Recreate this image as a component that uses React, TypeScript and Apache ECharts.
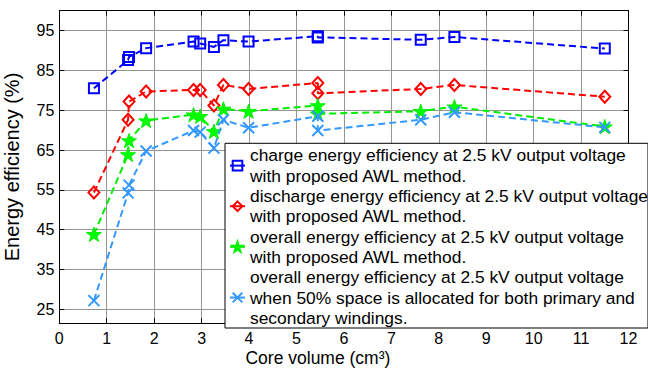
import React, { useEffect, useRef } from "react";
import * as echarts from "echarts";

const coreVolume = [0.73, 1.45, 1.47, 1.83, 2.83, 2.97, 3.26, 3.46, 3.99, 5.45, 5.45, 7.62, 8.33, 11.5];
const chargeEff = [80.5, 87.6, 88.4, 90.6, 92.25, 91.75, 90.9, 92.6, 92.25, 93.6, 93.3, 92.7, 93.4, 90.5];
const dischargeEff = [54.35, 72.6, 77.2, 79.7, 80.1, 80.1, 76.2, 81.35, 80.35, 81.85, 79.25, 80.35, 81.35, 78.4];
const overallEff = [43.85, 63.9, 67.4, 72.4, 73.9, 73.5, 69.7, 75.35, 74.75, 76.2, 74.1, 74.75, 75.9, 70.9];
const overall50Eff = [27.2, 54.25, 56.2, 64.75, 69.9, 69.5, 65.5, 72.6, 70.6, 73.5, 69.9, 72.6, 74.5, 70.7];

const yTicks = [25, 35, 45, 55, 65, 75, 85, 95];
const seriesNames = [
  "charge energy efficiency at 2.5 kV output voltage\nwith proposed AWL method.",
  "discharge energy efficiency at 2.5 kV output voltage\nwith proposed AWL method.",
  "overall energy efficiency at 2.5 kV output voltage\nwith proposed AWL method.",
  "overall energy efficiency at 2.5 kV output voltage\nwhen 50% space is allocated for both primary and\nsecondary windings.",
];

const FONT = "Liberation Sans, Arial, sans-serif";
const STAR =
  "path://M50,0 L61.2,34.55 L97.55,34.55 L68.2,55.9 L79.4,90.45 L50,69.1 L20.6,90.45 L31.8,55.9 L2.45,34.55 L38.8,34.55 Z";
const CROSS = "path://M0,0L10,10M10,0L0,10";

const toPairs = (ys: number[]) => coreVolume.map((x, i) => [x, ys[i]]);

export default function App() {
  const ref = useRef<HTMLDivElement>(null);
  useEffect(() => {
    if (!ref.current) return;
    const chart = echarts.init(ref.current, null, { renderer: "svg" });
    const gridColor = "#959595";
    const dash = [7, 4];
    chart.setOption({
      animation: false,
      backgroundColor: "#ffffff",
      textStyle: { fontFamily: FONT },
      grid: { left: 59.3, right: 19.5, top: 10.7, bottom: 46.7, containLabel: false, outerBoundsMode: "none" },
      legend: {
        orient: "vertical",
        left: 225,
        top: 143.3,
        padding: [2, 0, 0, 4],
        itemGap: 0,
        itemWidth: 15,
        itemHeight: 12,
        selectedMode: false,
        backgroundColor: "#ffffff",
        borderColor: "#000000",
        borderWidth: 1,
        borderRadius: 0,
        lineStyle: { type: "solid" },
        textStyle: { fontFamily: FONT, fontSize: 17.4, lineHeight: 20.3, color: "#000" },
        data: seriesNames,
      },
      xAxis: [
        {
          type: "value",
          min: 0,
          max: 12,
          interval: 1,
          name: "Core volume (cm³)",
          nameLocation: "middle",
          nameGap: 26,
          nameMoveOverlap: false,
          nameTextStyle: {
            fontFamily: FONT,
            fontSize: 17.5,
            lineHeight: 18,
            color: "#000",
            padding: [0, 52, 0, 0],
          },
          axisLine: { show: true, onZero: false, lineStyle: { color: "#000", width: 1 } },
          axisTick: { show: true, inside: true, length: 5, lineStyle: { color: "#000" } },
          axisLabel: { fontFamily: FONT, fontSize: 16, color: "#000", margin: 7 },
          splitLine: { show: true, lineStyle: { color: gridColor, width: 1 } },
        },
        {
          type: "value",
          position: "top",
          min: 0,
          max: 12,
          interval: 1,
          axisLine: { show: true, onZero: false, lineStyle: { color: "#000", width: 1 } },
          axisTick: { show: true, inside: true, length: 5, lineStyle: { color: "#000" } },
          axisLabel: { show: false },
          splitLine: { show: false },
        },
      ],
      yAxis: [
        {
          type: "value",
          min: 21.5,
          max: 100,
          name: "Energy efficiency (%)",
          nameLocation: "middle",
          nameGap: 37,
          nameMoveOverlap: false,
          nameTextStyle: { fontFamily: FONT, fontSize: 20, color: "#000" },
          axisLine: { show: true, onZero: false, lineStyle: { color: "#000", width: 1 } },
          axisTick: { show: true, inside: true, length: 5, customValues: yTicks, lineStyle: { color: "#000" } },
          axisLabel: { fontFamily: FONT, fontSize: 16, color: "#000", margin: 5, customValues: yTicks },
          splitLine: { show: true, lineStyle: { color: gridColor, width: 1 } },
        },
        {
          type: "value",
          position: "right",
          min: 21.5,
          max: 100,
          axisLine: { show: true, onZero: false, lineStyle: { color: "#000", width: 1 } },
          axisTick: { show: true, inside: true, length: 5, customValues: yTicks, lineStyle: { color: "#000" } },
          axisLabel: { show: false, customValues: yTicks },
          splitLine: { show: false },
        },
      ],
      series: [
        {
          name: seriesNames[0],
          type: "line",
          data: toPairs(chargeEff),
          symbol: "rect",
          symbolSize: 10,
          lineStyle: { color: "#0000ff", width: 2, type: dash },
          itemStyle: { color: "rgba(255,255,255,0)", borderColor: "#0000ff", borderWidth: 2 },
          z: 2,
        },
        {
          name: seriesNames[1],
          type: "line",
          data: toPairs(dischargeEff),
          symbol: "diamond",
          symbolSize: [11, 12],
          lineStyle: { color: "#ff0000", width: 2, type: dash },
          itemStyle: { color: "rgba(255,255,255,0)", borderColor: "#ff0000", borderWidth: 2 },
          z: 3,
        },
        {
          name: seriesNames[2],
          type: "line",
          data: toPairs(overallEff),
          symbol: STAR,
          symbolKeepAspect: true,
          symbolSize: 15,
          lineStyle: { color: "#00ee00", width: 2, type: dash },
          itemStyle: { color: "#00ff00", borderColor: "#00ee00", borderWidth: 1 },
          z: 4,
        },
        {
          name: seriesNames[3],
          type: "line",
          data: toPairs(overall50Eff),
          symbol: CROSS,
          symbolSize: 11,
          lineStyle: { color: "#3399ff", width: 2, type: dash },
          itemStyle: { color: "#3399ff", borderColor: "#3399ff", borderWidth: 2 },
          z: 5,
        },
      ],
    });
    return () => chart.dispose();
  }, []);
  return <div ref={ref} style={{ width: 648, height: 370, position: "absolute", left: 0, top: 0 }} />;
}
